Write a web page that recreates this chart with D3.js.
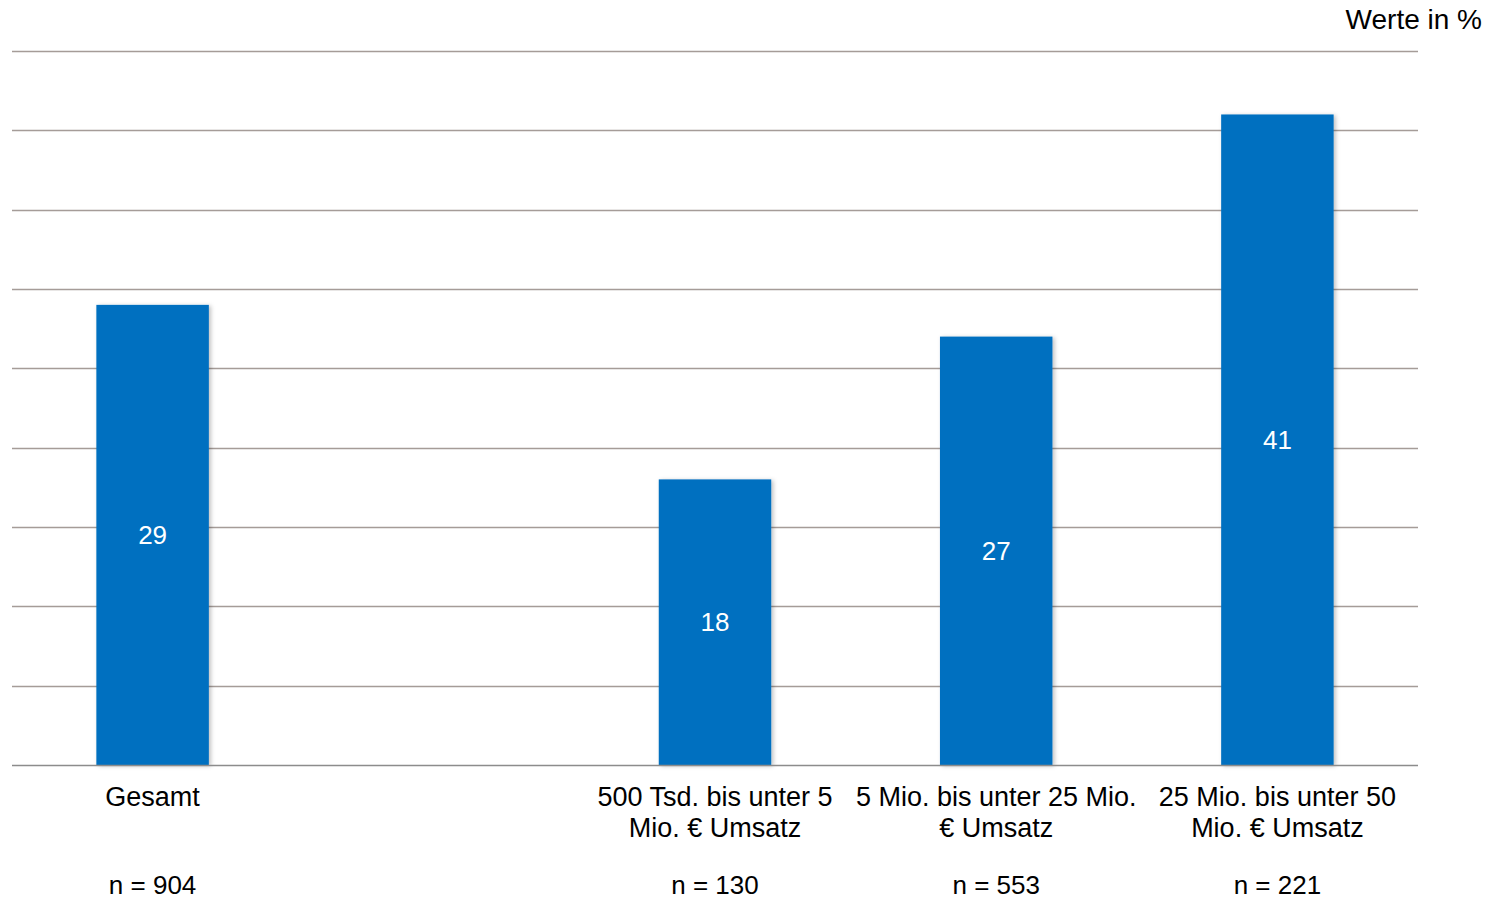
<!DOCTYPE html>
<html>
<head>
<meta charset="utf-8">
<script src="https://cdn.jsdelivr.net/npm/d3@7"></script>
<style>
  html, body { margin: 0; padding: 0; background: #fff; }
  svg { display: block; font-family: "Liberation Sans", Arial, sans-serif; }
</style>
</head>
<body>
<svg id="chart" width="1490" height="900"></svg>
<script>
// Data
const categories = ["Gesamt", "", "500 Tsd. bis unter 5 Mio. € Umsatz", "5 Mio. bis unter 25 Mio. € Umsatz", "25 Mio. bis unter 50 Mio. € Umsatz"];
const values = [29, null, 18, 27, 41];
const sampleSizes = ["n = 904", "", "n = 130", "n = 553", "n = 221"];
const gridTicks = [0, 5, 10, 15, 20, 25, 30, 35, 40, 45];
const unitLabel = "Werte in %";

(function () {
const svg = d3.select("#chart");
const plotLeft = 12, plotRight = 1418, plotTop = 51, plotBottom = 765;
const fontSize = 27;

const x = d3.scaleBand().domain(d3.range(categories.length)).range([plotLeft, plotRight]).paddingInner(0.6).paddingOuter(0.3);
const y = d3.scaleLinear().domain([0, 45]).range([plotBottom, plotTop]);

const defs = svg.append("defs");
const f = defs.append("filter").attr("id", "shadow").attr("x", "-10%").attr("y", "-10%").attr("width", "130%").attr("height", "130%");
f.append("feDropShadow").attr("dx", 2).attr("dy", 1).attr("stdDeviation", 2).attr("flood-color", "#000").attr("flood-opacity", 0.25);

// gridlines
svg.append("g").selectAll("line").data(gridTicks.filter(d => d > 0)).join("line")
  .attr("x1", plotLeft).attr("x2", plotRight)
  .attr("y1", d => Math.round(y(d)) + 0.5).attr("y2", d => Math.round(y(d)) + 0.5)
  .attr("stroke", "#a59c98").attr("stroke-width", 1.6);

// bars
const barData = values.map((v, i) => ({ i, v })).filter(d => d.v != null);
svg.append("g").selectAll("rect").data(barData).join("rect")
  .attr("x", d => x(d.i)).attr("width", x.bandwidth())
  .attr("y", d => y(d.v)).attr("height", d => y(0) - y(d.v))
  .attr("fill", "#0070c0").attr("filter", "url(#shadow)");

// baseline
svg.append("line").attr("x1", plotLeft).attr("x2", plotRight)
  .attr("y1", Math.round(y(0)) + 0.5).attr("y2", Math.round(y(0)) + 0.5)
  .attr("stroke", "#8c8c8c").attr("stroke-width", 1.6);

// bar value labels
svg.append("g").selectAll("text").data(barData).join("text")
  .attr("x", d => x(d.i) + x.bandwidth() / 2)
  .attr("y", d => (y(d.v) + y(0)) / 2)
  .attr("dy", "0.35em").attr("text-anchor", "middle")
  .attr("fill", "#fff").attr("font-size", 26)
  .text(d => d.v);

// category labels with wrapping
const ctx = document.createElement("canvas").getContext("2d");
ctx.font = fontSize + "px 'Liberation Sans', Arial, sans-serif";
function wrap(text, width) {
  const words = text.split(" ");
  const lines = [];
  let cur = "";
  words.forEach(w => {
    const test = cur ? cur + " " + w : w;
    if (ctx.measureText(test).width > width && cur) { lines.push(cur); cur = w; }
    else cur = test;
  });
  if (cur) lines.push(cur);
  return lines;
}
const catG = svg.append("g");
categories.forEach((c, i) => {
  if (!c) return;
  const cx = x(i) + x.bandwidth() / 2;
  const lines = wrap(c, x.step() + 4);
  const t = catG.append("text").attr("text-anchor", "middle").attr("font-size", fontSize).attr("fill", "#000");
  lines.forEach((ln, k) => {
    t.append("tspan").attr("x", cx).attr("y", 806 + k * 31).text(ln);
  });
});

// sample sizes
svg.append("g").selectAll("text").data(sampleSizes.map((s, i) => ({ s, i })).filter(d => d.s)).join("text")
  .attr("x", d => x(d.i) + x.bandwidth() / 2)
  .attr("y", 894).attr("text-anchor", "middle")
  .attr("font-size", 26).attr("fill", "#000")
  .text(d => d.s);

// unit label
svg.append("text").attr("x", 1482).attr("y", 29).attr("text-anchor", "end")
  .attr("font-size", 28).attr("fill", "#000").text(unitLabel);
})();
</script>
</body>
</html>
